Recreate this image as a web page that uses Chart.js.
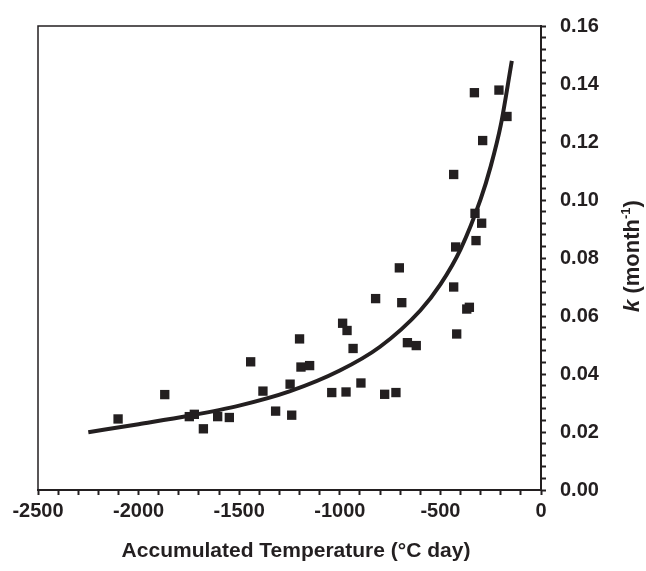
<!DOCTYPE html>
<html>
<head>
<meta charset="utf-8">
<script src="https://cdn.jsdelivr.net/npm/chart.js@4.4.1/dist/chart.umd.min.js"></script>
<style>
  html, body { margin: 0; padding: 0; background: #ffffff; }
  #wrap { width: 646px; height: 571px; position: relative; }
  canvas { display: block; }
</style>
</head>
<body>
<div id="wrap"><canvas id="c" width="646" height="571" style="width:646px;height:571px"></canvas></div>
<script>
// ---- data ----
const pointX = [-2102, -1870, -1748, -1723, -1678, -1607, -1549, -1443, -1382, -1319,
                -1247, -1239, -1200, -1193, -1150, -1040, -969, -895, -777, -721,
                -934, -986, -964, -822, -692, -704, -664, -620, -434, -419,
                -369, -356, -424, -323, -328, -295, -434, -290, -331, -209, -169];
const pointK = [0.0245, 0.0329, 0.0253, 0.0261, 0.0211, 0.0253, 0.0250, 0.0442, 0.0341, 0.0272,
                0.0365, 0.0258, 0.0521, 0.0424, 0.0429, 0.0336, 0.0338, 0.0369, 0.0330, 0.0336,
                0.0488, 0.0575, 0.0550, 0.0660, 0.0646, 0.0766, 0.0508, 0.0498, 0.0700, 0.0538,
                0.0624, 0.0630, 0.0838, 0.0860, 0.0954, 0.0920, 0.1088, 0.1205, 0.1370, 0.1379, 0.1288];

const curveX = [-2250, -2000, -1750, -1500, -1250, -1000, -800, -600, -500, -400, -300, -250, -200, -145];
const curveK = [0.0199, 0.0227, 0.0256, 0.0291, 0.0340, 0.0412, 0.0494, 0.0619, 0.0709, 0.0830, 0.1003, 0.1116, 0.1258, 0.1480];

const xTickLabels = ['-2500', '-2000', '-1500', '-1000', '-500', '0'];
const yTickLabels = ['0.00', '0.02', '0.04', '0.06', '0.08', '0.10', '0.12', '0.14', '0.16'];

const xTitle = 'Accumulated Temperature (°C day)';
const yTitleParts = ['k', ' (month', '-1', ')'];

// ---- chart ----
const INK = '#231f20';
const FONT = '"Liberation Sans", Arial, sans-serif';

const scatterPts = pointX.map((x, i) => ({ x: x, y: pointK[i] }));
const curvePts = curveX.map((x, i) => ({ x: x, y: curveK[i] }));

function labelFor(list, v) {
  for (const s of list) {
    if (Math.abs(parseFloat(s) - v) < 1e-7) return s;
  }
  return '';
}

const framePlugin = {
  id: 'frame',
  afterDraw(chart) {
    const { ctx, chartArea: a } = chart;
    ctx.save();
    ctx.strokeStyle = INK;
    ctx.lineWidth = 1.5;
    ctx.beginPath();
    ctx.moveTo(a.left, a.bottom);
    ctx.lineTo(a.left, a.top);
    ctx.lineTo(a.right, a.top);
    ctx.stroke();

    // x-axis title
    ctx.fillStyle = INK;
    ctx.font = 'bold 21px ' + FONT;
    ctx.textAlign = 'center';
    ctx.textBaseline = 'middle';
    ctx.fillText(xTitle, 296, 551);

    // y-axis title (rotated, with italic k and superscript -1)
    const fMain = 'bold 22px ' + FONT;
    const fItal = 'italic bold 22px ' + FONT;
    const fSup = 'bold 13px ' + FONT;
    const fonts = [fItal, fMain, fSup, fMain];
    const widths = yTitleParts.map((t, i) => { ctx.font = fonts[i]; return ctx.measureText(t).width; });
    const total = widths.reduce((s, w) => s + w, 0);
    ctx.translate(631, 256);
    ctx.rotate(-Math.PI / 2);
    ctx.textAlign = 'left';
    ctx.textBaseline = 'alphabetic';
    let x = -total / 2;
    yTitleParts.forEach((t, i) => {
      ctx.font = fonts[i];
      const dy = (i === 2) ? -9 : 0;
      ctx.fillText(t, x, 8 + dy);
      x += widths[i];
    });
    ctx.restore();
  }
};

new Chart(document.getElementById('c'), {
  type: 'scatter',
  data: {
    datasets: [
      {
        label: 'fit',
        data: curvePts,
        showLine: true,
        borderColor: INK,
        borderWidth: 4,
        pointRadius: 0,
        cubicInterpolationMode: 'monotone',
        fill: false,
        order: 2
      },
      {
        label: 'k',
        data: scatterPts,
        pointStyle: 'rect',
        pointRadius: 6.6,
        pointBorderWidth: 0,
        backgroundColor: INK,
        borderColor: INK,
        order: 1
      }
    ]
  },
  options: {
    responsive: false,
    animation: false,
    devicePixelRatio: 1,
    layout: { padding: { left: 38, top: 19, right: 0, bottom: 0 } },
    plugins: { legend: { display: false }, tooltip: { enabled: false } },
    scales: {
      x: {
        type: 'linear',
        position: 'bottom',
        min: -2500,
        max: 0,
        afterFit(s) { s.height = 81; },
        ticks: {
          stepSize: 100,
          autoSkip: false,
          maxRotation: 0,
          padding: 4,
          color: INK,
          font: { family: FONT, size: 20, weight: 'bold' },
          callback: (v) => labelFor(xTickLabels, v)
        },
        grid: {
          drawOnChartArea: false,
          drawTicks: true,
          tickLength: 5,
          tickWidth: 2,
          tickColor: INK
        },
        border: { display: true, color: INK, width: 2 }
      },
      y: {
        type: 'linear',
        position: 'right',
        min: 0,
        max: 0.16,
        afterFit(s) { s.width = 105; },
        ticks: {
          stepSize: 0.004,
          autoSkip: false,
          padding: 14,
          color: INK,
          font: { family: FONT, size: 20, weight: 'bold' },
          callback: (v) => labelFor(yTickLabels, v)
        },
        grid: {
          drawOnChartArea: false,
          drawTicks: true,
          tickLength: 5,
          tickWidth: 2,
          tickColor: INK
        },
        border: { display: true, color: INK, width: 2 }
      }
    }
  },
  plugins: [framePlugin]
});
</script>
</body>
</html>
